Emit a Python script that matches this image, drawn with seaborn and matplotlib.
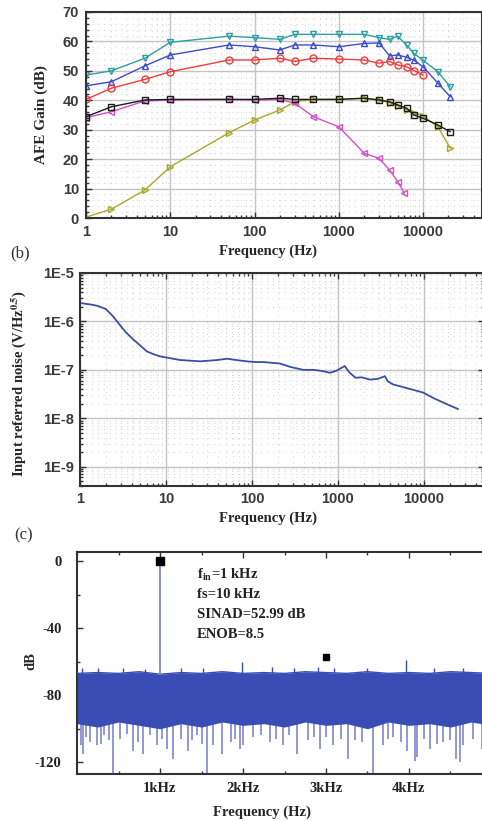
import matplotlib
matplotlib.use("Agg")
import numpy as np
import pandas as pd
import matplotlib.pyplot as plt
import matplotlib.ticker as mticker
import seaborn as sns

# ---------------- (a) AFE gain vs frequency ----------------
freq_a = [1, 2, 5, 10, 50, 100, 200, 300, 500, 1000, 2000, 3000, 4000, 5000,
          6400, 7800, 10000, 15000, 21000]
gain_cyan = [48.6, 50.0, 54.3, 59.7, 61.8, 61.3, 60.7, 62.4, 62.4, 62.4, 62.4,
             61.3, 60.7, 61.8, 58.7, 55.9, 53.6, 49.7, 44.6]
gain_blue = [44.9, 46.3, 51.7, 55.4, 58.8, 58.2, 57.1, 58.8, 58.8, 58.2, 59.3,
             59.5, 55.1, 55.4, 54.6, 53.6, 51.4, 45.8, 41.2]
freq_red = [1, 2, 5, 10, 50, 100, 200, 300, 500, 1000, 2000, 3000, 4000, 5000,
            6400, 7800, 10000]
gain_red = [40.3, 44.1, 47.1, 49.7, 53.7, 53.7, 54.3, 53.2, 54.3, 54.0, 53.7,
            52.6, 53.2, 52.0, 51.4, 50.1, 48.6]
gain_black = [34.4, 37.8, 40.1, 40.3, 40.3, 40.3, 40.7, 40.3, 40.3, 40.3, 40.7,
              40.1, 39.5, 38.4, 37.3, 35.0, 33.9, 31.6, 29.3]
freq_mag = [1, 2, 5, 10, 50, 100, 200, 300, 500, 1000, 2000, 3000, 4000, 5000, 6000]
gain_mag = [34.1, 36.1, 39.8, 40.1, 40.3, 40.1, 40.3, 39.0, 34.4, 31.0, 22.0,
            20.3, 16.3, 12.3, 8.4]
gain_olive = [0.3, 3.0, 9.5, 17.4, 29.0, 33.3, 36.7, 39.5, 40.3, 40.3, 40.7,
              40.1, 39.2, 38.1, 36.8, 35.8, 34.7, 31.0, 23.7]

# ---------------- (b) input referred noise ----------------
freq_b = [1.0, 1.3, 1.6, 2.0, 2.4, 2.9, 3.4, 4.2, 5.0, 6.0, 7.2, 8.5, 11, 14.5,
          19, 25, 32, 40, 51, 65, 87, 110, 135, 170, 212, 280, 395, 520, 650,
          807, 950, 1100, 1200, 1350, 1590, 1900, 2350, 2900, 3520, 3800, 4380,
          5500, 7000, 9800, 13000, 18000, 25000]
noise_b = [2.4e-6, 2.25e-6, 2.1e-6, 1.8e-6, 1.3e-6, 8.5e-7, 6.0e-7, 4.2e-7,
           3.2e-7, 2.4e-7, 2.1e-7, 1.9e-7, 1.75e-7, 1.6e-7, 1.55e-7, 1.5e-7,
           1.55e-7, 1.6e-7, 1.7e-7, 1.6e-7, 1.5e-7, 1.45e-7, 1.45e-7, 1.4e-7,
           1.35e-7, 1.15e-7, 1.0e-7, 1.0e-7, 9.5e-8, 8.7e-8, 9.5e-8, 1.1e-7,
           1.2e-7, 9.0e-8, 6.9e-8, 7.0e-8, 6.3e-8, 6.5e-8, 7.4e-8, 5.8e-8,
           5.0e-8, 4.5e-8, 4.0e-8, 3.4e-8, 2.6e-8, 2.0e-8, 1.55e-8]
noise_ticks = [1e-9, 1e-8, 1e-7, 1e-6, 1e-5]
noise_labels = ["1E-9", "1E-8", "1E-7", "1E-6", "1E-5"]

# ---------------- (c) output spectrum ----------------
band_freq = [0, 250, 500, 750, 1000, 1250, 1500, 1750, 2000, 2250, 2500, 2750,
             3000, 3250, 3500, 3750, 4000, 4250, 4500, 4750, 5000]
band_top = [-67, -66.5, -67, -66, -67.5, -66.5, -67, -66, -67, -66.5, -67, -66,
            -66.5, -67, -66, -67, -66.5, -67, -66, -66.5, -67]
band_bottom = [-97, -99, -96, -98, -100, -97, -99, -96, -98, -97, -99, -96, -98,
               -97, -100, -96, -98, -97, -99, -96, -98]
peak_freq = [55, 250, 560, 820, 1250, 1520, 1985, 2350, 2620, 2900, 3100, 3500,
             3960, 4300, 4650]
peak_db = [-64, -64, -64, -64.5, -64, -63.5, -60, -63, -64, -63, -64, -64, -59,
           -63.5, -64]
dip_freq = [48, 72, 110, 160, 240, 290, 330, 380, 434, 520, 600, 675, 730, 795,
            880, 960, 1020, 1080, 1160, 1250, 1340, 1390, 1440, 1500, 1562, 1640,
            1745, 1850, 1900, 1960, 2000, 2120, 2220, 2325, 2400, 2480, 2560,
            2650, 2780, 2850, 2930, 3000, 3085, 3180, 3265, 3350, 3430, 3565,
            3690, 3750, 3810, 3900, 3975, 4072, 4095, 4180, 4250, 4340, 4410,
            4500, 4570, 4614, 4650, 4770, 4880]
dip_db = [-110, -115, -105, -108, -110, -109, -104, -107, -127, -106, -103, -113,
          -108, -115, -104, -110, -106, -112, -118, -106, -113, -107, -104, -109,
          -127, -110, -115, -108, -106, -112, -110, -105, -104, -108, -106, -110,
          -104, -115, -107, -105, -112, -105, -110, -106, -118, -107, -108, -127,
          -110, -106, -105, -108, -113, -119, -117, -106, -112, -109, -108, -107,
          -118, -120, -110, -106, -112]
tone_freq = 1000
tone_db = 0
harm_freq = 3000
harm_db = -57.5

SERIF = ["Liberation Serif", "DejaVu Serif"]
SANS = ["Liberation Sans", "DejaVu Sans"]

sns.set_style("ticks")
plt.rcParams["font.family"] = SANS
plt.rcParams["font.weight"] = "bold"
plt.rcParams["mathtext.fontset"] = "stix"

SPINE = "#333333"
TICKTXT = "#3a3a3a"

fig = plt.figure(figsize=(4.82, 8.21), dpi=100)
ax_a = fig.add_axes([86 / 482, 1 - 218 / 821, 396 / 482, 206 / 821])
ax_b = fig.add_axes([80 / 482, 1 - 486 / 821, 404 / 482, 213 / 821])
ax_c = fig.add_axes([77 / 482, 1 - 774 / 821, 415 / 482, 222 / 821])


def frame(ax):
    for s in ax.spines.values():
        s.set_linewidth(1.5)
        s.set_color(SPINE)
    ax.tick_params(which="both", direction="in", color=SPINE, width=1.0)
    ax.tick_params(which="major", length=4)
    ax.tick_params(which="minor", length=2.5)


def grids(ax):
    ax.set_axisbelow(True)
    ax.grid(which="major", color="#c4c4c4", lw=1.0, ls="-")
    ax.grid(which="minor", color="#d2d2d2", lw=0.7, ls=(0, (1, 5)))


# ---- panel (a)
series_a = [
    (freq_a, gain_cyan, "#2f9ea4", "v"),
    (freq_a, gain_blue, "#3c4cc8", "^"),
    (freq_red, gain_red, "#f03c3c", "o"),
    (freq_a, gain_olive, "#a8a828", ">"),
    (freq_mag, gain_mag, "#d052c8", "<"),
    (freq_a, gain_black, "#1c1c1c", "s"),
]
for fx, gy, col, mk in series_a:
    df = pd.DataFrame({"f": fx, "g": gy})
    sns.lineplot(data=df, x="f", y="g", ax=ax_a, color=col, lw=1.0,
                 marker=mk, markersize=5, markerfacecolor="none",
                 markeredgecolor=col, markeredgewidth=1.0)
ax_a.set_xscale("log")
ax_a.set_xlim(1, 5e4)
ax_a.set_ylim(0, 70)
ax_a.yaxis.set_major_locator(mticker.MultipleLocator(10))
ax_a.yaxis.set_minor_locator(mticker.MultipleLocator(2))
ax_a.xaxis.set_major_locator(mticker.FixedLocator([1, 10, 100, 1000, 10000]))
ax_a.xaxis.set_minor_locator(mticker.LogLocator(subs=np.arange(2, 10)))
ax_a.xaxis.set_major_formatter(mticker.FuncFormatter(lambda v, p: f"{int(round(v))}"))
ax_a.xaxis.set_minor_formatter(mticker.NullFormatter())
frame(ax_a)
grids(ax_a)
ax_a.tick_params(labelsize=10.5, labelcolor=TICKTXT, pad=5)
ax_a.set_xlabel("Frequency (Hz)", fontfamily=SERIF, fontweight="bold", fontsize=10.5)
ax_a.set_ylabel("AFE Gain (dB)", fontfamily=SERIF, fontweight="bold", fontsize=11)
ax_a.xaxis.set_label_coords(0.46, -0.131)
ax_a.yaxis.set_label_coords(-0.096, 0.5)

# ---- panel (b)
df_b = pd.DataFrame({"f": freq_b, "n": noise_b})
sns.lineplot(data=df_b, x="f", y="n", ax=ax_b, color="#3a4ea8", lw=1.3)
ax_b.set_xscale("log")
ax_b.set_yscale("log")
ax_b.set_xlim(1, 5e4)
ax_b.set_ylim(4e-10, 1e-5)
ax_b.xaxis.set_major_locator(mticker.FixedLocator([1, 10, 100, 1000, 10000]))
ax_b.xaxis.set_minor_locator(mticker.LogLocator(subs=np.arange(2, 10)))
ax_b.xaxis.set_major_formatter(mticker.FuncFormatter(lambda v, p: f"{int(round(v))}"))
ax_b.xaxis.set_minor_formatter(mticker.NullFormatter())
ax_b.set_yticks(noise_ticks, noise_labels)
ax_b.yaxis.set_minor_locator(mticker.LogLocator(subs=np.arange(2, 10)))
ax_b.yaxis.set_minor_formatter(mticker.NullFormatter())
frame(ax_b)
grids(ax_b)
ax_b.tick_params(which="both", top=True, right=True)
ax_b.tick_params(labelsize=10.5, labelcolor=TICKTXT, pad=4)
ax_b.set_xlabel("Frequency (Hz)", fontfamily=SERIF, fontweight="bold", fontsize=10.5)
ax_b.set_ylabel(r"Input referred noise (V/Hz$^{\mathbf{0.5}}$)", fontfamily=SERIF,
                fontweight="bold", fontsize=10.5)
ax_b.xaxis.set_label_coords(0.465, -0.118)
ax_b.yaxis.set_label_coords(-0.129, 0.48)

# ---- panel (c)
BAND = "#3a4db4"
FRINGE = "#8a8fd4"
df_top = pd.DataFrame({"f": band_freq, "db": band_top})
ax_c.fill_between(band_freq, band_bottom, band_top, color=BAND, lw=0, zorder=2)
sns.lineplot(data=df_top, x="f", y="db", ax=ax_c, color=BAND, lw=1.0, zorder=3)
bottom_at_dip = np.interp(dip_freq, band_freq, band_bottom)
ax_c.vlines(dip_freq, dip_db, bottom_at_dip + 3, color=FRINGE, lw=1.3, zorder=1.5)
top_at_peak = np.interp(peak_freq, band_freq, band_top)
ax_c.vlines(peak_freq, top_at_peak, peak_db, color=BAND, lw=1.0, zorder=3)
ax_c.vlines([tone_freq], [-68], [tone_db], color="#8088cc", lw=1.3, zorder=3)
ax_c.plot([tone_freq], [tone_db], marker="s", color="black", ms=5.5, zorder=4)
ax_c.plot([harm_freq], [harm_db], marker="s", color="black", ms=4.5, zorder=4)
ax_c.set_xlim(0, 5000)
ax_c.set_ylim(-127, 5.4)
ax_c.set_xticks([1000, 2000, 3000, 4000], ["1kHz", "2kHz", "3kHz", "4kHz"],
                fontfamily=SERIF, fontweight="bold", fontsize=10.5)
ax_c.xaxis.set_minor_locator(mticker.MultipleLocator(500))
ax_c.set_yticks([0, -40, -80, -120], ["0", "-40", "-80", "-120"],
                fontfamily=SERIF, fontweight="bold", fontsize=10.5)
ax_c.yaxis.set_minor_locator(mticker.MultipleLocator(20))
frame(ax_c)
ax_c.tick_params(which="both", top=True)
ax_c.tick_params(axis="x", labelcolor="#222222", pad=6)
ax_c.tick_params(axis="y", labelcolor="#222222", pad=11)
ax_c.set_xlabel("Frequency (Hz)", fontfamily=SERIF, fontweight="bold", fontsize=10.5)
ax_c.set_ylabel("dB", fontfamily=SERIF, fontweight="bold", fontsize=10.5)
ax_c.xaxis.set_label_coords(0.446, -0.14)
ax_c.yaxis.set_label_coords(-0.095, 0.51)

info = [r"f$_{\mathbf{in}}$=1 kHz", "fs=10 kHz", "SINAD=52.99 dB", "ENOB=8.5"]
for i, line in enumerate(info):
    ax_c.text(0.289, 0.896 - i * 0.089, line, transform=ax_c.transAxes,
              fontfamily=SERIF, fontweight="bold", fontsize=10.5,
              color="#222222", va="center", ha="left")

# panel tags
fig.text(10 / 482, 1 - 253 / 821, "(b)", fontfamily=SERIF, fontweight="normal",
         fontsize=12, va="center", ha="left", color="#333333")
fig.text(14 / 482, 1 - 535 / 821, "(c)", fontfamily=SERIF, fontweight="normal",
         fontsize=12, va="center", ha="left", color="#333333")

fig.savefig("out.png", dpi=100)
